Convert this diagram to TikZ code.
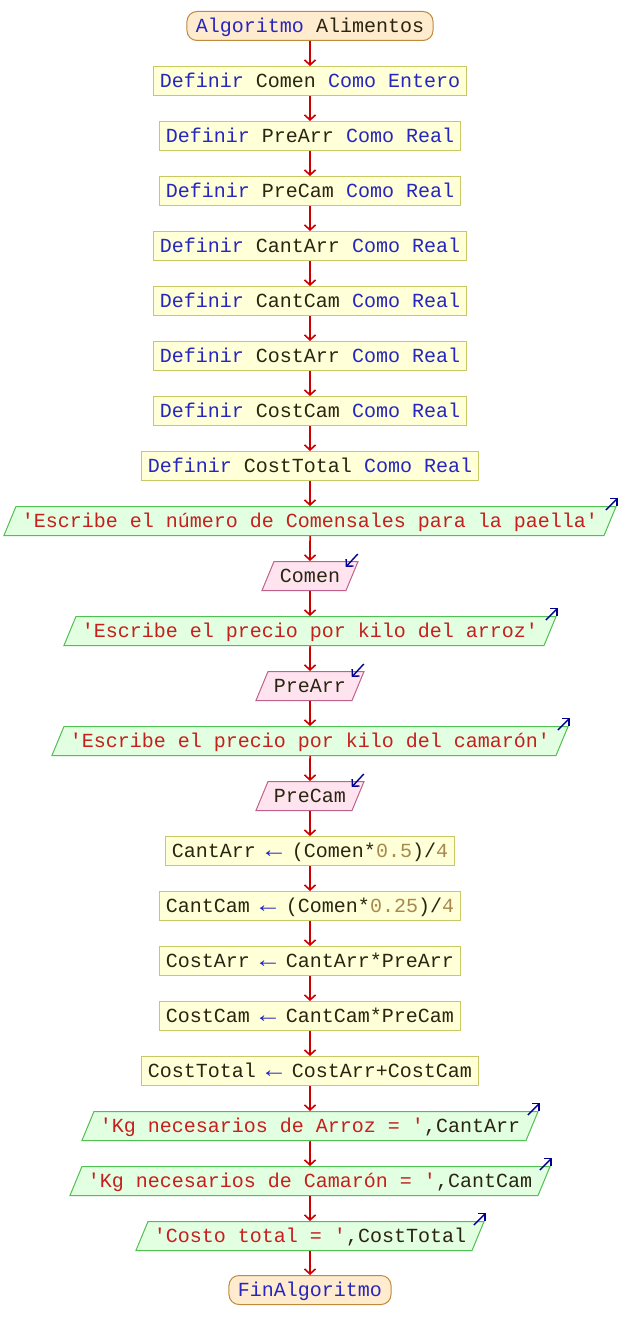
\documentclass[tikz,border=0pt]{standalone}
\usepackage{fontspec}
\usepackage{graphicx}
\setmonofont{Liberation Mono}
\usetikzlibrary{shapes.geometric,arrows.meta}
\definecolor{kwc}{HTML}{2626C0}
\definecolor{varc}{HTML}{2A2410}
\definecolor{strc}{HTML}{C81E1E}
\definecolor{numc}{HTML}{A8884C}
\definecolor{procf}{HTML}{FFFFD8}
\definecolor{procd}{HTML}{C8C864}
\definecolor{outf}{HTML}{E2FFE2}
\definecolor{outd}{HTML}{50C050}
\definecolor{inf}{HTML}{FFE4F0}
\definecolor{ind}{HTML}{C0608C}
\definecolor{termf}{HTML}{FFEBCD}
\definecolor{termd}{HTML}{C08A3C}
\definecolor{flowc}{HTML}{CC0000}
\definecolor{ioc}{HTML}{000090}
\newcommand\kw[1]{\textcolor{kwc}{#1}}
\newcommand\vr[1]{\textcolor{varc}{#1}}
\newcommand\st[1]{\textcolor{strc}{#1}}
\newcommand\nm[1]{\textcolor{numc}{#1}}
\newcommand\asg{\makebox[12pt]{\textcolor{kwc}{\scalebox{1.35}[1.15]{←}}}}
\tikzset{
 base/.style={font=\ttfamily\fontsize{20}{24}\selectfont, inner ysep=6pt, text height=15pt, text depth=2pt, line width=1pt, text=varc},
 proc/.style={base, rectangle, draw=procd, fill=procf, inner xsep=6pt},
 term/.style={base, rectangle, rounded corners=10pt, draw=termd, fill=termf, inner xsep=9pt},
 outp/.style={base, trapezium, trapezium left angle=67.5, trapezium right angle=112.5, draw=outd, fill=outf, inner xsep=6pt},
 inp/.style={outp, draw=ind, fill=inf},
 flow/.style={draw=flowc, line width=1.6pt, -{Straight Barb[length=5pt,width=11pt]}},
 ioarr/.style={draw=ioc, line width=1.4pt, -{Straight Barb[length=5pt,width=10pt]}},
}
\begin{document}
\begin{tikzpicture}[x=1pt,y=-1pt]
\useasboundingbox (0,0) rectangle (620,1340);
\node[term] (n1) at (310,26) {\kw{Algoritmo} \vr{Alimentos}};
\node[proc] (n2) at (310,81) {\kw{Definir} \vr{Comen} \kw{Como Entero}};
\node[proc] (n3) at (310,136) {\kw{Definir} \vr{PreArr} \kw{Como Real}};
\node[proc] (n4) at (310,191) {\kw{Definir} \vr{PreCam} \kw{Como Real}};
\node[proc] (n5) at (310,246) {\kw{Definir} \vr{CantArr} \kw{Como Real}};
\node[proc] (n6) at (310,301) {\kw{Definir} \vr{CantCam} \kw{Como Real}};
\node[proc] (n7) at (310,356) {\kw{Definir} \vr{CostArr} \kw{Como Real}};
\node[proc] (n8) at (310,411) {\kw{Definir} \vr{CostCam} \kw{Como Real}};
\node[proc] (n9) at (310,466) {\kw{Definir} \vr{CostTotal} \kw{Como Real}};
\node[outp] (n10) at (310,521) {\st{'Escribe el número de Comensales para la paella'}};
\node[inp] (n11) at (310,576) {\vr{Comen}};
\node[outp] (n12) at (310,631) {\st{'Escribe el precio por kilo del arroz'}};
\node[inp] (n13) at (310,686) {\vr{PreArr}};
\node[outp] (n14) at (310,741) {\st{'Escribe el precio por kilo del camarón'}};
\node[inp] (n15) at (310,796) {\vr{PreCam}};
\node[proc] (n16) at (310,851) {\vr{CantArr} \asg{} \vr{(Comen*}\nm{0.5}\vr{)/}\nm{4}};
\node[proc] (n17) at (310,906) {\vr{CantCam} \asg{} \vr{(Comen*}\nm{0.25}\vr{)/}\nm{4}};
\node[proc] (n18) at (310,961) {\vr{CostArr} \asg{} \vr{CantArr*PreArr}};
\node[proc] (n19) at (310,1016) {\vr{CostCam} \asg{} \vr{CantCam*PreCam}};
\node[proc] (n20) at (310,1071) {\vr{CostTotal} \asg{} \vr{CostArr+CostCam}};
\node[outp] (n21) at (310,1126) {\st{'Kg necesarios de Arroz = '}\vr{,CantArr}};
\node[outp] (n22) at (310,1181) {\st{'Kg necesarios de Camarón = '}\vr{,CantCam}};
\node[outp] (n23) at (310,1236) {\st{'Costo total = '}\vr{,CostTotal}};
\node[term] (n24) at (310,1290) {\kw{FinAlgoritmo}};
\foreach \i [evaluate=\i as \j using int(\i+1)] in {1,...,23} {\draw[flow] (n\i) -- (n\j);}
\foreach \n in {n10,n12,n14,n21,n22,n23} {\draw[ioarr] ([xshift=-11pt,yshift=-4pt]\n.top right corner) -- ([xshift=1pt,yshift=8pt]\n.top right corner);}
\foreach \n in {n11,n13,n15} {\draw[ioarr] ([xshift=-1pt,yshift=7pt]\n.top right corner) -- ([xshift=-13pt,yshift=-6pt]\n.top right corner);}
\end{tikzpicture}
\end{document}
